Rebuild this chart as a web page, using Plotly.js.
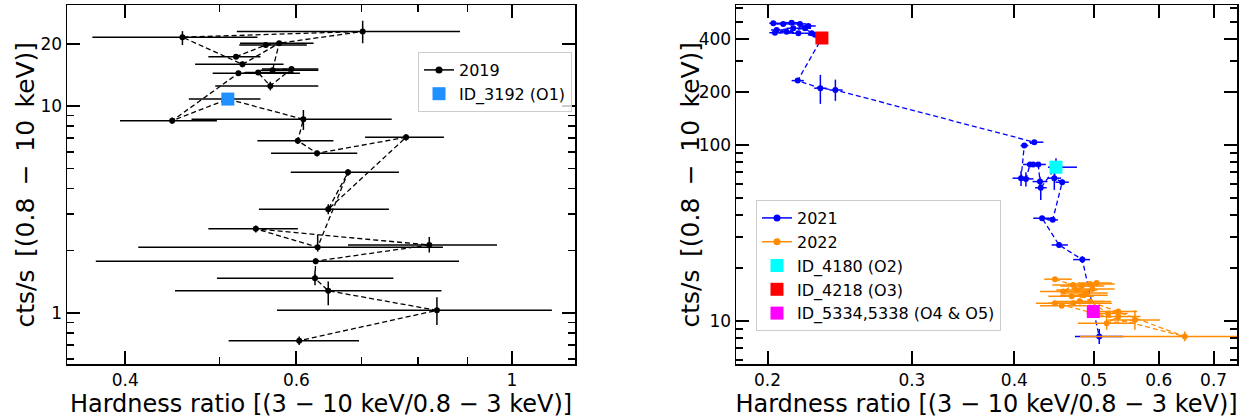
<!DOCTYPE html>
<html>
<head>
<meta charset="utf-8">
<script src="https://cdn.plot.ly/plotly-3.0.1.min.js"></script>
<style>html,body{margin:0;padding:0;background:#fff;}#chart{width:1254px;height:420px;}</style>
</head>
<body>
<div id="chart"></div>
<script>
// ---------- 2019 (left panel), in path order ----------
const hr2019    = [0.520, 0.558, 0.702, 0.458, 0.528, 0.576, 0.567, 0.593, 0.564, 0.548, 0.523, 0.447, 0.510, 0.610, 0.602, 0.630, 0.778, 0.647, 0.678, 0.631, 0.545, 0.822, 0.628, 0.627, 0.647, 0.837, 0.604];
const hr2019Lo  = [0.487, 0.524, 0.521, 0.370, 0.472, 0.525, 0.551, 0.553, 0.495, 0.531, 0.492, 0.395, 0.465, 0.468, 0.547, 0.565, 0.706, 0.549, 0.592, 0.4125, 0.487, 0.678, 0.373, 0.497, 0.450, 0.573, 0.511];
const hr2019Hi  = [0.551, 0.615, 0.884, 0.547, 0.582, 0.625, 0.632, 0.632, 0.632, 0.596, 0.605, 0.497, 0.551, 0.752, 0.655, 0.693, 0.851, 0.747, 0.765, 0.849, 0.602, 0.965, 0.882, 0.755, 0.846, 1.099, 0.696];
const cts2019   = [17.3, 19.7, 22.9, 21.5, 15.9, 20.1, 14.9, 15.1, 12.5, 14.5, 14.4, 8.49, 10.8, 8.63, 6.80, 5.91, 7.06, 3.17, 4.78, 2.08, 2.55, 2.13, 1.78, 1.47, 1.28, 1.03, 0.735];
const cts2019Lo = [16.9, 19.2, 20.1, 19.7, 15.4, 19.6, 14.5, 14.7, 11.9, 14.1, 14.0, 8.2, 10.4, 7.66, 6.55, 5.7, 6.8, 3.0, 4.6, 1.98, 2.45, 1.96, 1.72, 1.36, 1.09, 0.875, 0.70];
const cts2019Hi = [17.7, 20.2, 25.8, 23.0, 16.4, 20.6, 15.3, 15.5, 13.1, 14.9, 14.8, 8.8, 11.2, 9.56, 7.05, 6.1, 7.3, 3.35, 4.95, 2.38, 2.65, 2.33, 1.84, 1.60, 1.42, 1.19, 0.77];

// ---------- 2021 (right panel, blue) ----------
const hr2021    = [0.2033, 0.2090, 0.2140, 0.2191, 0.2243, 0.2150, 0.2052, 0.2110, 0.2181, 0.2042, 0.2222, 0.2264, 0.2285, 0.2330, 0.2177, 0.2320, 0.2420, 0.4231, 0.4113, 0.4076, 0.4132, 0.4180, 0.4218, 0.4278, 0.4299, 0.4308, 0.4496, 0.4475, 0.4575, 0.4455, 0.4324, 0.4535, 0.4841, 0.5077];
const hr2021Lo  = [0.2010, 0.2050, 0.2100, 0.2150, 0.2200, 0.2110, 0.2020, 0.2070, 0.2140, 0.2010, 0.2180, 0.2220, 0.2240, 0.2290, 0.2140, 0.2280, 0.2380, 0.4172, 0.4070, 0.3980, 0.4050, 0.4100, 0.4140, 0.4190, 0.4210, 0.4240, 0.4396, 0.4390, 0.4490, 0.4390, 0.4218, 0.4442, 0.4719, 0.4742];
const hr2021Hi  = [0.2080, 0.2130, 0.2180, 0.2230, 0.2290, 0.2190, 0.2090, 0.2150, 0.2220, 0.2080, 0.2260, 0.2310, 0.2330, 0.2370, 0.2215, 0.2360, 0.2470, 0.4340, 0.4160, 0.4170, 0.4220, 0.4270, 0.4300, 0.4370, 0.4390, 0.4380, 0.4769, 0.4560, 0.4660, 0.4520, 0.4455, 0.4649, 0.4947, 0.5431];
const cts2021   = [491, 487, 495, 487, 474, 460, 450, 440, 431, 434, 460, 431, 422, 405, 231.9, 210, 205, 103.6, 99.1, 64.7, 64.1, 77.4, 77.4, 77.4, 61.9, 57.1, 74.7, 64.7, 61.4, 37.5, 38.3, 27.0, 22.3, 8.14];
const cts2021Lo = [480, 476, 484, 476, 463, 450, 440, 430, 421, 424, 450, 421, 412, 396, 225, 171, 178, 101, 96.5, 58.5, 58, 75.5, 75.5, 75.5, 58, 48.7, 69, 55.5, 59.5, 36.5, 37.3, 26, 21.3, 7.4];
const cts2021Hi = [502, 498, 506, 498, 485, 470, 460, 450, 441, 444, 470, 441, 432, 414, 239, 250, 235, 106, 101.5, 71.1, 70, 79.5, 79.5, 79.5, 66, 62, 84, 72, 63.5, 38.5, 39.3, 28, 23.3, 9.0];

// ---------- 2022 (right panel, orange) ----------
const hr2022    = [0.4483, 0.4719, 0.4588, 0.4832, 0.4765, 0.4947, 0.5040, 0.4901, 0.4700, 0.4860, 0.4980, 0.4719, 0.4809, 0.4568, 0.4483, 0.6456, 0.4947, 0.5206, 0.5355, 0.5355, 0.5184, 0.5612];
const hr2022Lo  = [0.435, 0.445, 0.430, 0.455, 0.450, 0.465, 0.478, 0.460, 0.440, 0.455, 0.470, 0.440, 0.450, 0.430, 0.425, 0.4809, 0.470, 0.490, 0.505, 0.500, 0.478, 0.520];
const hr2022Hi  = [0.470, 0.505, 0.490, 0.515, 0.505, 0.530, 0.526, 0.520, 0.500, 0.520, 0.530, 0.505, 0.515, 0.490, 0.526, 0.800, 0.525, 0.550, 0.565, 0.570, 0.560, 0.602];
const cts2022   = [17.26, 16.0, 14.7, 15.8, 15.0, 16.2, 16.4, 14.4, 13.8, 14.0, 15.2, 12.6, 12.9, 12.2, 12.6, 8.15, 12.9, 11.0, 11.3, 10.6, 9.7, 10.1];
const cts2022Lo = [16.9, 15.6, 14.3, 15.4, 14.6, 15.8, 16.0, 14.0, 13.4, 13.6, 14.8, 12.3, 12.6, 11.9, 12.3, 7.65, 12.6, 10.7, 11.0, 10.3, 8.9, 8.9];
const cts2022Hi = [17.6, 16.4, 15.1, 16.2, 15.4, 16.6, 16.8, 14.8, 14.2, 14.4, 15.6, 12.9, 13.2, 12.5, 12.9, 8.7, 13.2, 11.3, 11.6, 10.9, 10.6, 11.5];

// ---------- highlighted observations ----------
const obsNames = ["ID_3192 (O1)", "ID_4180 (O2)", "ID_4218 (O3)", "ID_5334,5338 (O4 & O5)"];
const obsHr    = [0.510, 0.4496, 0.233, 0.4993];
const obsCts   = [10.8, 74.7, 405, 11.3];
const obsColor = ["#1E90FF", "#00FFFF", "#FF0000", "#FF00FF"];

const FONT = "DejaVu Sans, Liberation Sans, sans-serif";
const minus = (v, lo) => v.map((x, i) => x - lo[i]);
const plus  = (v, hi) => v.map((x, i) => hi[i] - x);

function series(hr, lo, hi, cts, clo, chi, color, xa, ya) {
  return {
    x: hr, y: cts, xaxis: xa, yaxis: ya, type: "scatter", mode: "lines+markers",
    line: {color: color, width: 1.3, dash: "5px,3px"},
    marker: {color: color, size: 6},
    error_x: {type: "data", symmetric: false, array: plus(hr, hi), arrayminus: minus(hr, lo), color: color, thickness: 1.5, width: 0},
    error_y: {type: "data", symmetric: false, array: plus(cts, chi), arrayminus: minus(cts, clo), color: color, thickness: 1.5, width: 0},
    showlegend: false, hoverinfo: "x+y"
  };
}
function legendEntry(name, color, xa, ya, leg) {
  return {x: [null], y: [null], xaxis: xa, yaxis: ya, type: "scatter", mode: "lines+markers", name: name,
    line: {color: color, width: 1.5}, marker: {color: color, size: 7}, legend: leg};
}
function square(i, xa, ya, leg) {
  return {x: [obsHr[i]], y: [obsCts[i]], xaxis: xa, yaxis: ya, type: "scatter", mode: "markers", name: obsNames[i],
    marker: {color: obsColor[i], size: 13, symbol: "square"}, legend: leg};
}

const traces = [
  series(hr2019, hr2019Lo, hr2019Hi, cts2019, cts2019Lo, cts2019Hi, "#000000", "x", "y"),
  legendEntry("2019", "#000000", "x", "y", "legend"),
  square(0, "x", "y", "legend"),
  series(hr2021, hr2021Lo, hr2021Hi, cts2021, cts2021Lo, cts2021Hi, "#0000FF", "x2", "y2"),
  series(hr2022, hr2022Lo, hr2022Hi, cts2022, cts2022Lo, cts2022Hi, "#FF8C00", "x2", "y2"),
  legendEntry("2021", "#0000FF", "x2", "y2", "legend2"),
  legendEntry("2022", "#FF8C00", "x2", "y2", "legend2"),
  square(1, "x2", "y2", "legend2"),
  square(2, "x2", "y2", "legend2"),
  square(3, "x2", "y2", "legend2")
];

const xTitle = "Hardness ratio [(3 − 10 keV/0.8 − 3 keV)]";
const yTitle = "cts/s\u2002[(0.8\u2002−\u200210\u2002keV)]";

function axis(extra) {
  return Object.assign({
    type: "log", showgrid: false, zeroline: false, showline: true, linecolor: "#000", linewidth: 1.5,
    mirror: "allticks", ticks: "inside", ticklen: 13, tickwidth: 2, tickcolor: "#000",
    tickfont: {family: FONT, size: 17, color: "#000"}, tickmode: "array"
  }, extra);
}
function minor(vals) {
  return {tickmode: "array", tickvals: vals, ticks: "inside", ticklen: 7, tickwidth: 1.5, tickcolor: "#000", showgrid: false};
}
const xTitleObj = {text: xTitle, font: {family: FONT, size: 24, color: "#000"}, standoff: 1};
function yTitleAnn(px) {
  return {text: yTitle, xref: "paper", yref: "paper", x: px/1254, y: 0.5, xanchor: "center", yanchor: "middle",
    textangle: -90, showarrow: false, font: {family: FONT, size: 25, color: "#000"}};
}

const layout = {
  width: 1254, height: 420,
  margin: {l: 0, r: 0, t: 5, b: 56},
  paper_bgcolor: "#fff", plot_bgcolor: "#fff",
  font: {family: FONT, color: "#000"},
  xaxis: axis({domain: [67/1254, 575/1254], range: [-0.4579, 0.0648], anchor: "y",
    tickvals: [0.4, 0.6, 1], ticktext: ["0.4", "0.6", "1"], minor: minor([0.5, 0.7, 0.8, 0.9]),
    title: xTitleObj}),
  yaxis: axis({domain: [0, 1], range: [-0.2464, 1.4879], anchor: "x",
    tickvals: [1, 10, 20], ticktext: ["1", "10", "20"],
    minor: minor([0.6, 0.7, 0.8, 0.9, 2, 3, 4, 5, 6, 7, 8, 9])}),
  xaxis2: axis({domain: [736/1254, 1237/1254], range: [-0.7374, -0.1264], anchor: "y2",
    tickvals: [0.2, 0.3, 0.4, 0.5, 0.6, 0.7], ticktext: ["0.2", "0.3", "0.4", "0.5", "0.6", "0.7"],
    title: xTitleObj}),
  yaxis2: axis({domain: [0, 1], range: [0.755, 2.795], anchor: "x2",
    tickvals: [10, 100, 200, 400], ticktext: ["10", "100", "200", "400"],
    minor: minor([6, 7, 8, 9, 20, 30, 40, 50, 60, 70, 80, 90, 300, 500, 600])}),
  annotations: [yTitleAnn(25), yTitleAnn(690)],
  legend: {x: 418/1254, y: 1 - (52-5)/359, xanchor: "left", yanchor: "top", bgcolor: "rgba(255,255,255,0.8)",
    bordercolor: "#cccccc", borderwidth: 1, font: {family: FONT, size: 16, color: "#000"}},
  legend2: {x: 756/1254, y: 1 - (200-5)/359, xanchor: "left", yanchor: "top", bgcolor: "rgba(255,255,255,0.8)",
    bordercolor: "#cccccc", borderwidth: 1, font: {family: FONT, size: 16, color: "#000"}}
};

Plotly.newPlot("chart", traces, layout, {displayModeBar: false, staticPlot: true});
</script>
</body>
</html>
